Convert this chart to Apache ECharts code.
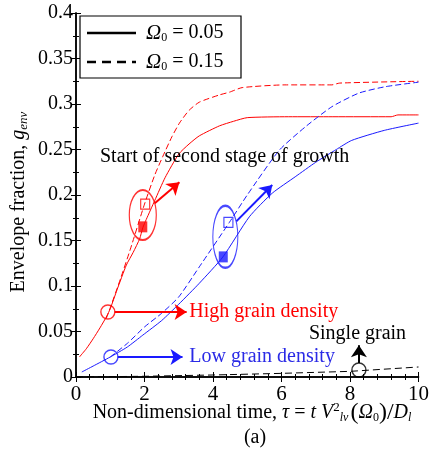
<!DOCTYPE html>
<html><head><meta charset="utf-8">
<script src="https://cdn.jsdelivr.net/npm/echarts@6/dist/echarts.min.js"></script>
<style>html,body{margin:0;padding:0;background:#fff}#c{width:432px;height:462px}</style>
</head><body><div id="c"></div>
<script>
// ---- data (tau, g_env) ----
const xTicks = [0, 2, 4, 6, 8, 10];
const yTicks = [0, 0.05, 0.1, 0.15, 0.2, 0.25, 0.3, 0.35, 0.4];

// High grain density, Omega0 = 0.05 (red solid)
const tauRedSolid = [0.1, 0.3, 0.5, 0.7, 0.9, 1.0, 1.2, 1.47, 1.67, 1.86, 1.95, 2.05, 2.3, 2.6, 3.0, 3.3, 3.6, 4.19, 4.6, 5.0, 6.2, 7.5, 9.2, 9.4, 10];
const gRedSolid   = [0.022, 0.031, 0.042, 0.054, 0.067, 0.075, 0.096, 0.123, 0.137, 0.152, 0.164, 0.173, 0.194, 0.219, 0.245, 0.256, 0.265, 0.276, 0.281, 0.285, 0.286, 0.286, 0.286, 0.288, 0.288];
// High grain density, Omega0 = 0.15 (red dashed)
const tauRedDash = [0.88, 1.0, 1.3, 1.6, 2.0, 2.3, 2.53, 2.8, 3.02, 3.3, 3.6, 4.19, 4.48, 4.85, 6.1, 7.47, 7.7, 10];
const gRedDash   = [0.064, 0.076, 0.108, 0.142, 0.19, 0.222, 0.242, 0.264, 0.279, 0.293, 0.302, 0.31, 0.313, 0.318, 0.321, 0.321, 0.323, 0.325];
// Low grain density, Omega0 = 0.05 (blue solid)
const tauBlueSolid = [0.17, 0.5, 1.0, 1.5, 1.95, 2.5, 3.0, 3.6, 4.29, 5.06, 5.73, 6.4, 7.0, 7.6, 8.05, 9.0, 10];
const gBlueSolid   = [0.0055, 0.012, 0.022, 0.033, 0.046, 0.062, 0.08, 0.103, 0.132, 0.176, 0.202, 0.22, 0.236, 0.25, 0.26, 0.271, 0.279];
// Low grain density, Omega0 = 0.15 (blue dashed)
const tauBlueDash = [1.0, 1.5, 2.0, 2.5, 3.0, 3.6, 4.48, 5.0, 5.93, 6.7, 7.47, 8.26, 9.03, 10];
const gBlueDash   = [0.022, 0.037, 0.055, 0.07, 0.088, 0.121, 0.17, 0.2, 0.249, 0.275, 0.297, 0.312, 0.319, 0.324];
// Single grain (black dashed)
const tauSingle = [0, 2, 4, 6, 8, 10];
const gSingle   = [0.0, 0.0008, 0.0022, 0.004, 0.0062, 0.011];

// Start of second stage of growth markers
const filledSquares = [[1.95, 0.165, 'red'], [4.3, 0.132, 'blue']];
const openSquares   = [[2.02, 0.19, 'red'], [4.45, 0.17, 'blue']];
const ellipses      = [[1.95, 0.178, 'red', 27, 50], [4.36, 0.154, 'blue', 25, 62]];
const circles       = [[0.93, 0.0714, 'red'], [1.02, 0.022, 'blue'], [8.26, 0.0077, 'black']];
const arrows = [
  [[2.30, 0.191], [3.02, 0.214], 'red'],
  [[4.68, 0.171], [5.73, 0.211], 'blue'],
  [[1.13, 0.0714], [3.23, 0.0714], 'red'],
  [[1.22, 0.022], [3.11, 0.022], 'blue'],
  [[8.26, 0.0155], [8.26, 0.035], 'black']
];
const notes = [
  ['Start of second stage of growth', 0.70, 0.242, '#000'],
  ['High grain density', 3.31, 0.0714, '#ff0000'],
  ['Low grain density', 3.31, 0.022, '#2a2ae6'],
  ['Single grain', 6.80, 0.048, '#000']
];

const COL = {red: '#ff0000', blue: '#1a1aff', black: '#000'};
const SERIF = '"Liberation Serif", "DejaVu Serif", serif';
const zip = (a, b) => a.map((v, i) => [v, b[i]]);

const chart = echarts.init(document.getElementById('c'), null, {renderer: 'canvas'});

const axisCommon = {
  axisLine: {show: true, lineStyle: {color: '#000', width: 1.5}},
  axisTick: {show: true, inside: true, length: 5, lineStyle: {color: '#000', width: 1}},
  splitLine: {show: false}
};

const series = [
  {type: 'line', data: zip(tauRedSolid, gRedSolid), showSymbol: false, smooth: 0.2, lineStyle: {color: COL.red, width: 1}, z: 3},
  {type: 'line', data: zip(tauRedDash, gRedDash), showSymbol: false, smooth: 0.2, lineStyle: {color: COL.red, width: 1, type: [6, 3]}, z: 3},
  {type: 'line', data: zip(tauBlueSolid, gBlueSolid), showSymbol: false, smooth: 0.2, lineStyle: {color: COL.blue, width: 1}, z: 3},
  {type: 'line', data: zip(tauBlueDash, gBlueDash), showSymbol: false, smooth: 0.2, lineStyle: {color: COL.blue, width: 1, type: [6, 3]}, z: 3},
  {type: 'line', data: zip(tauSingle, gSingle), showSymbol: false, lineStyle: {color: '#000', width: 1, type: [7, 4]}, z: 3},
  {type: 'scatter', symbol: 'rect', symbolSize: [9, 11], z: 5,
    data: filledSquares.map(d => ({value: [d[0], d[1]], itemStyle: {color: COL[d[2]]}}))},
  {type: 'scatter', symbol: 'rect', symbolSize: [9, 10], z: 5,
    data: openSquares.map(d => ({value: [d[0], d[1]], itemStyle: {color: 'rgba(0,0,0,0)', borderColor: COL[d[2]], borderWidth: 1.2}}))},
  {type: 'scatter', symbol: 'circle', z: 5,
    data: ellipses.map(d => ({value: [d[0], d[1]], symbolSize: [d[3], d[4]], itemStyle: {color: 'rgba(0,0,0,0)', borderColor: COL[d[2]], borderWidth: 1.6}}))},
  {type: 'scatter', symbol: 'circle', symbolSize: 14, z: 5,
    data: circles.map(d => ({value: [d[0], d[1]], itemStyle: {color: 'rgba(0,0,0,0)', borderColor: COL[d[2]], borderWidth: 1.4}}))},
  {type: 'lines', coordinateSystem: 'cartesian2d', symbol: ['none', 'arrow'], symbolSize: 12, z: 6,
    data: arrows.map(a => ({coords: [a[0], a[1]], lineStyle: {color: COL[a[2]], width: 2, opacity: 1}}))}
];

const xMinor = {show: true, splitNumber: 5, length: 3, lineStyle: {color: '#000'}};
const yMinor = {show: true, splitNumber: 2, length: 3, lineStyle: {color: '#000'}};

chart.setOption({
  animation: false,
  backgroundColor: '#fff',
  grid: {left: 76, right: 12, top: 13, bottom: 85, containLabel: false},
  xAxis: [
    Object.assign({type: 'value', min: 0, max: 10, interval: 2, minorTick: xMinor,
      axisLabel: {color: '#000', fontFamily: SERIF, fontSize: 21, margin: 7, customValues: xTicks}}, axisCommon),
    Object.assign({type: 'value', position: 'top', min: 0, max: 10, interval: 2, minorTick: xMinor, axisLabel: {show: false}}, axisCommon)
  ],
  yAxis: [
    Object.assign({type: 'value', min: 0, max: 0.4, interval: 0.05, minorTick: yMinor,
      axisLabel: {color: '#000', fontFamily: SERIF, fontSize: 20, margin: 3, customValues: yTicks, formatter: v => String(+v.toFixed(2))}}, axisCommon),
    Object.assign({type: 'value', position: 'right', min: 0, max: 0.4, interval: 0.05, minorTick: yMinor, axisLabel: {show: false}}, axisCommon)
  ],
  series: series
});

// annotations & legend & axis titles
const g = [];
notes.forEach(n => {
  const p = chart.convertToPixel({gridIndex: 0}, [n[1], n[2]]);
  g.push({type: 'text', x: p[0], y: p[1], z: 50,
    style: {text: n[0], fill: n[3], font: '20px ' + SERIF, verticalAlign: 'middle', align: 'left'}});
});
// legend box
g.push({type: 'rect', z: 60, shape: {x: 80, y: 16, width: 161, height: 62}, style: {fill: '#fff', stroke: '#000', lineWidth: 1.2}});
g.push({type: 'line', z: 61, shape: {x1: 87, y1: 33, x2: 136, y2: 33}, style: {stroke: '#000', lineWidth: 2.5}});
g.push({type: 'line', z: 61, shape: {x1: 87, y1: 62, x2: 136, y2: 62}, style: {stroke: '#000', lineWidth: 2.5, lineDash: [9, 6]}});
const legRich = {
  o: {fontFamily: SERIF, fontSize: 21, fontStyle: 'italic', fill: '#000'},
  s: {fontFamily: SERIF, fontSize: 12, fill: '#000', verticalAlign: 'bottom', padding: [8, 0, 0, 0]},
  n: {fontFamily: SERIF, fontSize: 20, fill: '#000'}
};
g.push({type: 'text', z: 61, x: 146, y: 33, style: {text: '{o|Ω}{s|0}{n| = 0.05}', rich: legRich, verticalAlign: 'middle'}});
g.push({type: 'text', z: 61, x: 146, y: 62, style: {text: '{o|Ω}{s|0}{n| = 0.15}', rich: legRich, verticalAlign: 'middle'}});
// y-axis title
g.push({type: 'text', z: 50, x: 19, y: 202, rotation: Math.PI / 2,
  style: {text: '{n|Envelope fraction, }{i|g}{s|env}', align: 'center', verticalAlign: 'middle',
    rich: {n: {fontFamily: SERIF, fontSize: 20, fill: '#000'},
           i: {fontFamily: SERIF, fontSize: 20, fontStyle: 'italic', fill: '#000'},
           s: {fontFamily: SERIF, fontSize: 13, fontStyle: 'italic', fill: '#000', padding: [9, 0, 0, 0]}}}});
// x-axis title
g.push({type: 'text', z: 50, x: 253, y: 413,
  style: {text: '{n|Non-dimensional time, }{i|τ}{n| = }{i|t V}{sup|2}{s|lv}{p|(}{i|Ω}{s0|0}{p|)}{p|/}{i|D}{s|l}',
    align: 'center', verticalAlign: 'middle',
    rich: {n: {fontFamily: SERIF, fontSize: 20, fill: '#000'},
           i: {fontFamily: SERIF, fontSize: 20, fontStyle: 'italic', fill: '#000'},
           p: {fontFamily: SERIF, fontSize: 24, fill: '#000'},
           sup: {fontFamily: SERIF, fontSize: 13, fill: '#000', padding: [0, 0, 10, 0]},
           s: {fontFamily: SERIF, fontSize: 12, fontStyle: 'italic', fill: '#000', padding: [9, 2, 0, 0]},
           s0: {fontFamily: SERIF, fontSize: 12, fill: '#000', padding: [9, 0, 0, 0]}}}});
g.push({type: 'text', z: 50, x: 255, y: 438, style: {text: '(a)', font: '20px ' + SERIF, fill: '#000', align: 'center', verticalAlign: 'middle'}});
chart.setOption({graphic: g});
</script>
</body></html>
